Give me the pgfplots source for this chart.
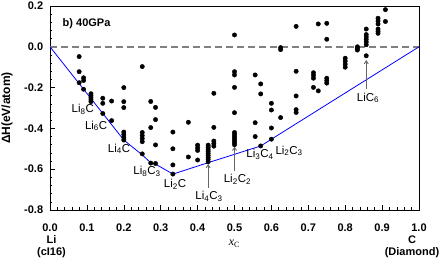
\documentclass[border=0pt]{standalone}
\usepackage{fontspec}
\setmainfont{Liberation Sans}
\newfontfamily\tnr{Liberation Serif}
\usepackage{pgfplots}
\pgfplotsset{compat=1.18}
\usetikzlibrary{arrows.meta}

\pgfplotstableread{
x y
0.079 -0.048
0.079 -0.122
0.079 -0.176
0.091 -0.152
0.091 -0.165
0.091 -0.208
0.111 -0.230
0.111 -0.240
0.111 -0.250
0.111 -0.260
0.111 -0.269
0.143 -0.252
0.143 -0.277
0.143 -0.327
0.167 -0.266
0.167 -0.362
0.200 -0.200
0.200 -0.269
0.200 -0.298
0.200 -0.418
0.200 -0.430
0.200 -0.443
0.200 -0.457
0.250 -0.097
0.250 -0.420
0.250 -0.435
0.250 -0.450
0.250 -0.465
0.250 -0.525
0.273 -0.268
0.273 -0.396
0.273 -0.570
0.286 -0.297
0.286 -0.357
0.286 -0.481
0.286 -0.572
0.333 -0.418
0.333 -0.500
0.333 -0.579
0.333 -0.624
0.375 -0.370
0.375 -0.540
0.400 -0.482
0.400 -0.495
0.400 -0.508
0.400 -0.555
0.4286 -0.482
0.4286 -0.492
0.4286 -0.502
0.4286 -0.512
0.4286 -0.522
0.4286 -0.532
0.4286 -0.542
0.4286 -0.552
0.4286 -0.564
0.444 -0.228
0.444 -0.395
0.444 -0.462
0.444 -0.475
0.444 -0.487
0.500 0.058
0.500 -0.122
0.500 -0.138
0.500 -0.199
0.500 -0.323
0.500 -0.420
0.500 -0.430
0.500 -0.440
0.500 -0.450
0.500 -0.460
0.500 -0.470
0.500 -0.480
0.556 -0.138
0.556 -0.372
0.556 -0.440
0.571 -0.182
0.571 -0.231
0.571 -0.486
0.600 -0.277
0.600 -0.310
0.600 -0.398
0.600 -0.453
0.625 -0.004
0.625 -0.014
0.625 -0.347
0.667 0.100
0.667 -0.120
0.667 -0.241
0.667 -0.308
0.667 -0.322
0.714 -0.127
0.714 -0.140
0.714 -0.154
0.714 -0.199
0.727 0.112
0.727 -0.216
0.750 0.115
0.750 0.037
0.750 -0.154
0.750 -0.166
0.750 -0.178
0.800 -0.056
0.800 -0.070
0.800 -0.085
0.800 -0.100
0.833 0.000
0.833 -0.008
0.833 -0.016
0.857 0.087
0.857 0.060
0.857 0.048
0.857 0.036
0.857 0.024
0.857 0.010
0.857 -0.044
0.889 0.140
0.889 0.126
0.889 0.112
0.889 0.087
0.889 0.076
0.889 0.066
0.909 0.182
0.909 0.124
}\pts

\pgfplotstableread{
x y
0 0
0.2 -0.457
0.25 -0.530
0.2727 -0.568
0.2857 -0.575
0.3333 -0.624
0.4286 -0.568
0.5714 -0.486
0.6 -0.453
1 0
}\hull

\begin{document}
\begin{tikzpicture}
\begin{axis}[
  scale only axis, width=369pt, height=204pt,
  xmin=0, xmax=1, ymin=-0.8, ymax=0.2,
  xtick={0,0.1,0.2,0.3,0.4,0.5,0.6,0.7,0.8,0.9,1.0},
  xticklabels={0.0,0.1,0.2,0.3,0.4,0.5,0.6,0.7,0.8,0.9,1.0},
  ytick={-0.8,-0.6,-0.4,-0.2,0,0.2},
  yticklabels={-0.8,-0.6,-0.4,-0.2,0.0,0.2},
  minor x tick num=4, minor y tick num=4,
  tick pos=left, tick align=inside,
  major tick length=4.5pt, minor tick length=2.5pt,
  tick style={black, line width=0.6pt},
  axis line style={line width=0.8pt},
  ticklabel style={font=\bfseries\fontsize{11}{12}\selectfont},
  xticklabel style={anchor=base, yshift=-22pt},
  yticklabel style={xshift=-3.3pt},
  clip=false,
]
\addplot[gray, line width=1.5pt, dash pattern=on 7pt off 4pt] coordinates {(0,0) (1,0)};
\addplot[blue, line width=0.8pt] table {\hull};
\addplot[only marks, mark=*, mark size=2.2pt, black] table {\pts};

\draw[gray!80!black, line width=0.9pt, -{Straight Barb[length=3pt,width=4pt]}] (axis cs:0.4286,-0.69) -- (axis cs:0.4286,-0.575);
\draw[gray!80!black, line width=0.9pt, -{Straight Barb[length=3pt,width=4pt]}] (axis cs:0.5,-0.61) -- (axis cs:0.5,-0.49);
\draw[gray!80!black, line width=0.9pt, -{Straight Barb[length=3pt,width=4pt]}] (axis cs:0.857,-0.205) -- (axis cs:0.857,-0.065);

\begin{scope}[every node/.style={font=\fontsize{11.5}{12}\selectfont, inner sep=0pt}]
\node at (axis cs:0.089,-0.305) {Li\textsubscript{8}C};
\node at (axis cs:0.125,-0.388) {Li\textsubscript{6}C};
\node at (axis cs:0.187,-0.500) {Li\textsubscript{4}C};
\node at (axis cs:0.263,-0.609) {Li\textsubscript{8}C\textsubscript{3}};
\node at (axis cs:0.339,-0.675) {Li\textsubscript{2}C};
\node at (axis cs:0.431,-0.735) {Li\textsubscript{4}C\textsubscript{3}};
\node at (axis cs:0.508,-0.648) {Li\textsubscript{2}C\textsubscript{2}};
\node at (axis cs:0.569,-0.526) {Li\textsubscript{3}C\textsubscript{4}};
\node at (axis cs:0.648,-0.510) {Li\textsubscript{2}C\textsubscript{3}};
\node at (axis cs:0.862,-0.250) {LiC\textsubscript{6}};
\end{scope}
\node[anchor=west, inner sep=0pt, font=\bfseries\fontsize{11}{12}\selectfont] at (axis cs:0.034,0.112) {b) 40GPa};

\node[anchor=base, align=center, inner sep=0pt, yshift=-46pt, font=\bfseries\fontsize{11}{12}\selectfont] at (axis cs:0.004,-0.8) {Li\\(cI16)};
\node[anchor=base, align=center, inner sep=0pt, yshift=-46pt, font=\bfseries\fontsize{11}{12}\selectfont] at (axis cs:0.981,-0.8) {C\\(Diamond)};
\node[anchor=base, inner sep=0pt, yshift=-36pt, font=\fontsize{12}{12}\selectfont] at (axis cs:0.5,-0.8) {{\tnr\itshape x}\textsubscript{\tnr C}};
\node[xshift=-43pt, rotate=90, inner sep=0pt, font=\bfseries\fontsize{12}{12}\selectfont] at (rel axis cs:0,0.5) {ΔH(eV/atom)};

\coordinate (ll) at (rel axis cs:0,0);
\coordinate (ur) at (rel axis cs:1,1);
\end{axis}
\pgfresetboundingbox
\path ([xshift=-50pt,yshift=-55pt]ll) rectangle ([xshift=24pt,yshift=6pt]ur);
\end{tikzpicture}
\end{document}
